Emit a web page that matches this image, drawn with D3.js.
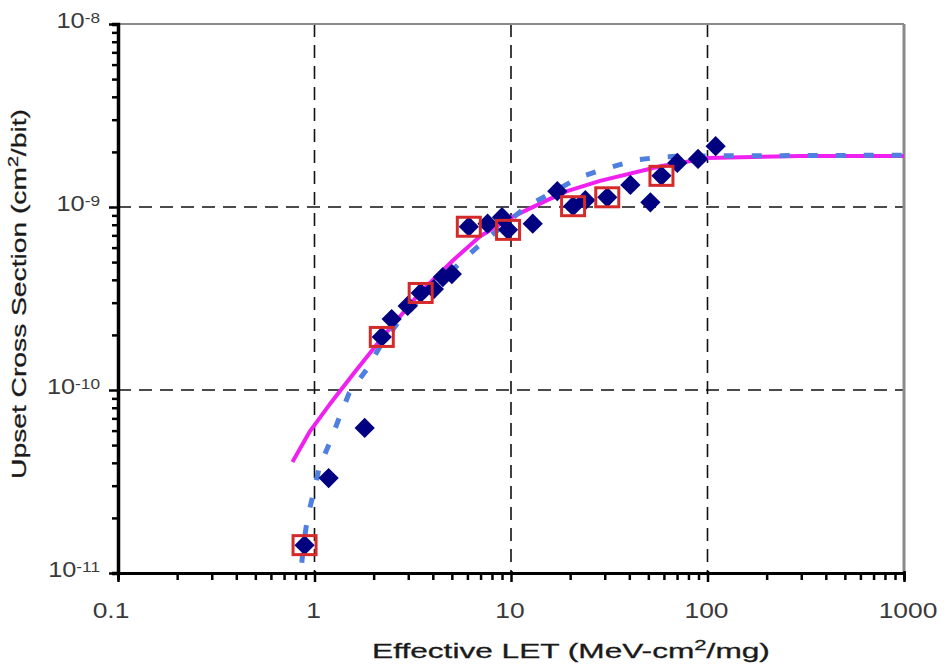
<!DOCTYPE html>
<html>
<head>
<meta charset="utf-8">
<script src="https://cdn.jsdelivr.net/npm/d3@7"></script>
<style>
  body { margin: 0; background: #fff; }
  svg { display: block; font-family: "Liberation Sans", Arial, sans-serif; }
</style>
</head>
<body>
<script>
// measured points (diamonds) - LET vs cross section
const measuredLET = [0.89, 1.18, 1.80, 2.20, 2.47, 2.98, 3.47, 4.05, 4.50, 5.0, 6.1, 7.6, 9.0, 9.66, 12.9,
    17.2, 20.7, 23.9, 30.9, 40.5, 51.2, 58.3, 70.2, 89.5, 110];
const measuredXS = [1.42e-11, 3.3e-11, 6.2e-11, 1.95e-10, 2.44e-10, 2.88e-10, 3.39e-10, 3.56e-10, 4.14e-10, 4.3e-10,
    7.8e-10, 8.1e-10, 8.8e-10, 7.5e-10, 8.1e-10, 1.22e-9, 1.01e-9, 1.09e-9, 1.13e-9, 1.32e-9, 1.06e-9,
    1.48e-9, 1.74e-9, 1.83e-9, 2.15e-9];

// highlighted points (open red squares)
const boxLET = [0.89, 2.20, 3.47, 6.1, 9.66, 20.7, 30.9, 58.3];
const boxXS = [1.42e-11, 1.95e-10, 3.39e-10, 7.8e-10, 7.5e-10, 1.01e-9, 1.13e-9, 1.48e-9];

// magenta fit
const fitALET = [0.772, 0.943, 1.19, 1.60, 2.20, 3.43, 5.06, 6.94, 10.1, 15.3, 19.3, 28.4, 57.6, 100, 297, 1000];
const fitAXS = [4.04e-11, 5.9e-11, 8.3e-11, 1.25e-10, 1.92e-10, 3.39e-10, 5.1e-10, 6.9e-10, 8.8e-10, 1.09e-9,
    1.22e-9, 1.39e-9, 1.67e-9, 1.85e-9, 1.9e-9, 1.9e-9];

// blue dotted fit
const fitBLET = [0.835, 0.879, 0.921, 0.988, 1.06, 1.19, 1.34, 1.50, 1.84, 2.15, 2.65, 3.43, 4.60, 6.69, 11.9,
    22.5, 30.9, 43.9, 59.5, 81.4, 1000];
const fitBXS = [8e-12, 1.42e-11, 2.0e-11, 2.74e-11, 3.8e-11, 5.1e-11, 7.1e-11, 9.6e-11, 1.29e-10, 1.72e-10, 2.32e-10,
    3.1e-10, 4.14e-10, 6.0e-10, 1.0e-9, 1.46e-9, 1.63e-9, 1.81e-9, 1.88e-9, 1.9e-9, 1.92e-9];

const xTickLabels = ["0.1", "1", "10", "100", "1000"];
const yTickExps = ["-8", "-9", "-10", "-11"];

const w = 944;
const h = 666;
const plot = { left: 118, right: 904, top: 24, bottom: 573 };

const svg = d3.select("body").append("svg")
    .attr("width", w)
    .attr("height", h);

const x = d3.scaleLog().domain([0.1, 1000]).range([plot.left, plot.right]);
const y = d3.scaleLog().domain([1e-11, 1e-8]).range([plot.bottom, plot.top]);

const isMajor = v => Math.abs(Math.log10(v) - Math.round(Math.log10(v))) < 1e-9;

const xTicks = [];
for (let d = -1; d <= 2; d++) for (let k = 1; k <= 9; k++) xTicks.push(k * Math.pow(10, d));
xTicks.push(1000);
const yTicks = [];
for (let d = -11; d <= -9; d++) for (let k = 1; k <= 9; k++) yTicks.push(k * Math.pow(10, d));
yTicks.push(1e-8);

svg.append("defs").append("clipPath").attr("id", "plotclip")
    .append("rect")
    .attr("x", plot.left).attr("y", plot.top)
    .attr("width", plot.right - plot.left).attr("height", plot.bottom - plot.top);

// grid
const grid = svg.append("g").attr("class", "grid");
[1, 10, 100].forEach(v => {
    grid.append("line")
        .attr("x1", x(v)).attr("x2", x(v))
        .attr("y1", plot.top).attr("y2", plot.bottom);
});
[1e-9, 1e-10].forEach(v => {
    grid.append("line")
        .attr("x1", plot.left).attr("x2", plot.right)
        .attr("y1", y(v)).attr("y2", y(v));
});
grid.selectAll("line")
    .attr("stroke", "#111")
    .attr("stroke-width", 1.6)
    .attr("stroke-dasharray", "13,8");

// frame (top and right, gray)
svg.append("line")
    .attr("x1", plot.left).attr("x2", plot.right)
    .attr("y1", plot.top).attr("y2", plot.top)
    .attr("stroke", "#8a8a8a").attr("stroke-width", 2);
svg.append("line")
    .attr("x1", plot.right).attr("x2", plot.right)
    .attr("y1", plot.top).attr("y2", plot.bottom)
    .attr("stroke", "#8a8a8a").attr("stroke-width", 3);

// curves
const lines = svg.append("g").attr("clip-path", "url(#plotclip)");
const lineGen = d3.line().x(d => x(d[0])).y(d => y(d[1]));

lines.append("path")
    .datum(d3.zip(fitALET, fitAXS))
    .attr("d", lineGen)
    .attr("fill", "none")
    .attr("stroke", "#f020f0")
    .attr("stroke-width", 4)
    .attr("stroke-linejoin", "round");

lines.append("path")
    .datum(d3.zip(fitBLET, fitBXS))
    .attr("d", lineGen)
    .attr("fill", "none")
    .attr("stroke", "#4f7fe0")
    .attr("stroke-width", 5)
    .attr("stroke-dasharray", "10,18");

// diamonds
svg.append("g")
    .selectAll("path")
    .data(d3.zip(measuredLET, measuredXS))
    .enter()
    .append("path")
    .attr("d", d3.symbol(d3.symbolSquare, 205))
    .attr("transform", d => `translate(${x(d[0])},${y(d[1])}) rotate(45)`)
    .attr("fill", "#000080");

// open red squares
svg.append("g")
    .selectAll("rect")
    .data(d3.zip(boxLET, boxXS))
    .enter()
    .append("rect")
    .attr("x", d => x(d[0]) - 11.5)
    .attr("y", d => y(d[1]) - 9.5)
    .attr("width", 23)
    .attr("height", 19)
    .attr("fill", "none")
    .attr("stroke", "#d42a2a")
    .attr("stroke-width", 3);

// axes
const xAxis = d3.axisBottom(x).tickValues(xTicks).tickSize(7).tickFormat("");
const gx = svg.append("g")
    .attr("transform", `translate(0,${plot.bottom})`)
    .call(xAxis);
gx.select(".domain").attr("stroke", "#000").attr("stroke-width", 3);
gx.selectAll(".tick line").attr("stroke", "#000").attr("stroke-width", 2.5)
    .filter(d => isMajor(d)).attr("y1", -2).attr("y2", 9);

const yAxis = d3.axisLeft(y).tickValues(yTicks).tickSize(6).tickFormat("");
const gy = svg.append("g")
    .attr("transform", `translate(${plot.left},0)`)
    .call(yAxis);
gy.select(".domain").attr("stroke", "#000").attr("stroke-width", 3.5);
gy.selectAll(".tick line").attr("stroke", "#000").attr("stroke-width", 2.5)
    .filter(d => isMajor(d)).attr("x2", -9);

// x tick labels
const xMajors = xTicks.filter(isMajor);
svg.append("g").selectAll("text")
    .data(xMajors)
    .enter()
    .append("text")
    .attr("transform", (d, i) => `translate(${x(d) + (i === 4 ? 4 : i === 0 ? -7 : -1)},618) scale(1.2,1)`)
    .attr("text-anchor", "middle")
    .style("font-size", "22px")
    .style("fill", "#3a3a3a")
    .text((d, i) => xTickLabels[i]);

// y tick labels 10^n
const yMajors = [1e-8, 1e-9, 1e-10, 1e-11];
const yl = svg.append("g").selectAll("text")
    .data(yMajors)
    .enter()
    .append("text")
    .attr("transform", d => `translate(100,${y(d) + 4}) scale(1.15,1)`)
    .attr("text-anchor", "end")
    .style("fill", "#3a3a3a");
yl.append("tspan").style("font-size", "22px").text("10");
yl.append("tspan").style("font-size", "15px").attr("dy", -5).text((d, i) => yTickExps[i]);

// axis titles, stretched to the widths seen in the chart
const xt = svg.append("text")
    .attr("text-anchor", "middle")
    .style("font-size", "20px")
    .style("fill", "#1a1a1a")
    .style("stroke", "#1a1a1a")
    .style("stroke-width", "0.3px");
xt.append("tspan").text("Effective LET (MeV-cm");
xt.append("tspan").style("font-size", "14px").attr("dy", -8).text("2");
xt.append("tspan").attr("dy", 8).text("/mg)");
const xtLen = xt.node().getComputedTextLength();
xt.attr("transform", `translate(571,658) scale(${398 / xtLen},1)`);

const yt = svg.append("text")
    .attr("text-anchor", "middle")
    .style("font-size", "20px")
    .style("fill", "#1a1a1a")
    .style("stroke", "#1a1a1a")
    .style("stroke-width", "0.3px");
yt.append("tspan").text("Upset Cross Section (cm");
yt.append("tspan").style("font-size", "14px").attr("dy", -8).text("2");
yt.append("tspan").attr("dy", 8).text("/bit)");
const ytLen = yt.node().getComputedTextLength();
yt.attr("transform", `translate(26,294) rotate(-90) scale(${370 / ytLen},1)`);
</script>
</body>
</html>
